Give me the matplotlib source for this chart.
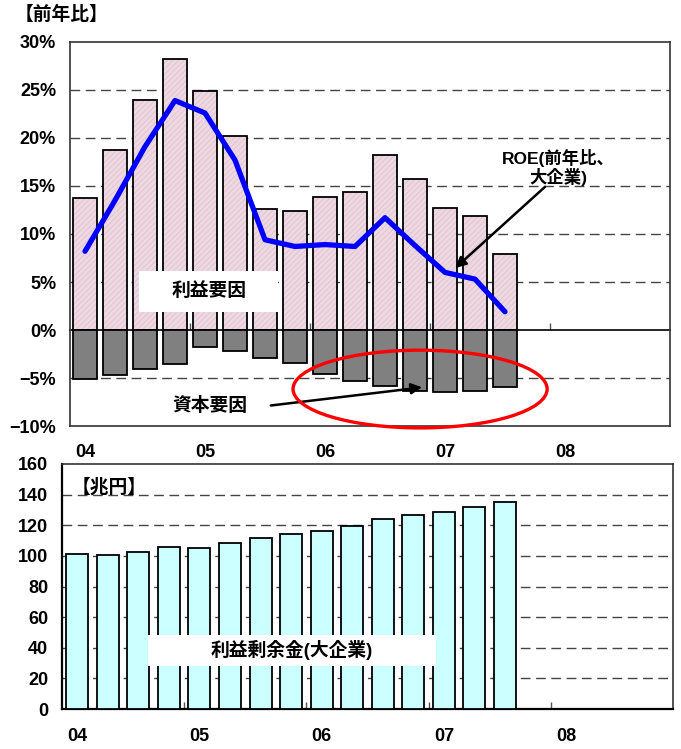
import numpy as np
import matplotlib
matplotlib.use("Agg")
import matplotlib.pyplot as plt
from matplotlib.patches import Ellipse, Rectangle

plt.rcParams['font.family'] = ['Liberation Sans', 'Noto Sans CJK JP', 'DejaVu Sans']
plt.rcParams['font.weight'] = 'bold'
plt.rcParams['hatch.linewidth'] = 0.5

# quarterly data, 2004 Q1 .. 2007 Q3
profit_factor = [13.8, 18.7, 24.0, 28.2, 24.9, 20.2, 12.6, 12.4, 13.9, 14.4, 18.2, 15.7, 12.7, 11.9, 7.9]
capital_factor = [-5.1, -4.7, -4.1, -3.5, -1.8, -2.2, -2.95, -3.4, -4.6, -5.3, -5.8, -6.35, -6.5, -6.4, -5.9]
roe = [8.2, 13.5, 19.1, 23.9, 22.6, 17.7, 9.4, 8.7, 8.9, 8.7, 11.7, 8.8, 6.0, 5.3, 1.9]
retained = [101.4, 100.4, 102.3, 105.6, 105.3, 108.4, 111.9, 114.5, 116.2, 119.5, 124.3, 126.5, 128.7, 131.9, 135.2]
years = ['04', '05', '06', '07', '08']
q_per_year = 4

x = np.arange(len(profit_factor))
year_pos = np.arange(len(years)) * q_per_year
year_bounds = year_pos[:-1] + q_per_year - 0.5
xlim = (-0.5, len(years) * q_per_year - 0.5)

fig = plt.figure(figsize=(6.81, 7.49), dpi=100)
W, H = 681, 749

def box(l, t, r, b):
    return [l / W, 1 - b / H, (r - l) / W, (b - t) / H]

def pct(v):
    return f'{v}%'.replace('-', '\u2212')

dash = (0, (7, 4))
grid_c = '#444444'
fs = 13

# ---------- top chart ----------
ax = fig.add_axes(box(70, 42, 670, 426))
ax.set_xlim(*xlim)
ax.set_ylim(-10, 30)
ax.set_axisbelow(True)
for v in range(-10, 31, 5):
    if v not in (0, -10, 30):
        ax.axhline(v, color=grid_c, lw=1, ls=dash, zorder=0)

ax.bar(x, profit_factor, width=0.77, color='#EDD8E2', edgecolor='#DDBFCD', hatch='//////', lw=0, zorder=2)
ax.bar(x, profit_factor, width=0.77, facecolor='none', edgecolor='black', lw=1.3, zorder=3)
ax.bar(x, capital_factor, width=0.77, color='#808080', edgecolor='black', lw=1.3, zorder=3)

zero = ax.secondary_xaxis(0.25)
zero.set_xticks(year_bounds)
zero.set_xticklabels([])
zero.tick_params(direction='in', length=5, width=1, color='#555555')
zero.spines['bottom'].set_color('black')
zero.spines['bottom'].set_linewidth(1.2)

ax.plot(x, roe, color='#0000FF', lw=3.8, solid_capstyle='round', solid_joinstyle='round', zorder=5)

ax.set_yticks(range(-10, 31, 5))
ax.set_yticklabels([pct(v) for v in range(-10, 31, 5)], fontsize=fs)
ax.set_xticks(year_pos)
ax.set_xticklabels(years, fontsize=fs)
ax.tick_params(axis='y', length=0, pad=10)
ax.tick_params(axis='x', length=0, pad=13)
for s in ax.spines.values():
    s.set_color('#333333')
    s.set_linewidth(1.2)

ax.add_patch(Rectangle((1.8, 1.875), 4.63, 4.27, facecolor='white', edgecolor='none', zorder=6))
ax.text(4.13, 4.05, '利益要因', ha='center', va='center', fontsize=13.5, zorder=7)

ax.text(4.17, -7.9, '資本要因', ha='center', va='center', fontsize=13.5, zorder=7)
ax.annotate('', xy=(11.33, -5.94), xytext=(6.1, -7.9),
            arrowprops=dict(arrowstyle='-|>', color='black', lw=1.8, mutation_scale=16), zorder=7)

ax.add_patch(Ellipse((11.17, -6.15), 8.47, 8.1, facecolor='none', edgecolor='#FF0000', lw=2.4,
                     zorder=8, clip_on=False))

ax.text(15.77, 16.9, 'ROE(前年比、\n大企業)', ha='center', va='center', fontsize=12.5,
        linespacing=1.05, zorder=7)
ax.annotate('', xy=(12.27, 6.25), xytext=(15.4, 15.1),
            arrowprops=dict(arrowstyle='-|>', color='black', lw=1.8, mutation_scale=16), zorder=7)

fig.text(15 / W, 1 - 15 / H, '【前年比】', ha='left', va='center', fontsize=13.5)

# ---------- bottom chart ----------
bx = fig.add_axes(box(62, 464, 673, 709))
bx.set_xlim(*xlim)
bx.set_ylim(0, 160)
bx.set_axisbelow(True)
for v in range(20, 160, 20):
    bx.axhline(v, color=grid_c, lw=1, ls=dash, zorder=0)

bx.bar(x, retained, width=0.72, color='#CCFFFF', edgecolor='black', lw=1.3, zorder=3)

bx.set_yticks(range(0, 161, 20))
bx.set_yticklabels([str(v) for v in range(0, 161, 20)], fontsize=fs)
bx.set_xticks(year_pos)
bx.set_xticklabels(years, fontsize=fs)
bx.set_xticks(year_bounds, minor=True)
bx.tick_params(axis='y', length=0, pad=10)
bx.tick_params(axis='x', which='major', length=0, pad=14)
bx.tick_params(axis='x', which='minor', direction='in', length=5, width=1, color='#555555')
for s in bx.spines.values():
    s.set_color('#333333')
    s.set_linewidth(1.2)
bx.spines['left'].set_color('black')
bx.spines['bottom'].set_color('black')
bx.spines['left'].set_linewidth(1.6)
bx.spines['bottom'].set_linewidth(1.6)

bx.add_patch(Rectangle((2.31, 28.1), 9.44, 20.2, facecolor='white', edgecolor='none', zorder=6))
bx.text(7.03, 38.3, '利益剰余金(大企業)', ha='center', va='center', fontsize=13.5, zorder=7)
bx.text(-0.18, 145, '【兆円】', ha='left', va='center', fontsize=13.5, zorder=7)

fig.savefig('out.png', dpi=100)
